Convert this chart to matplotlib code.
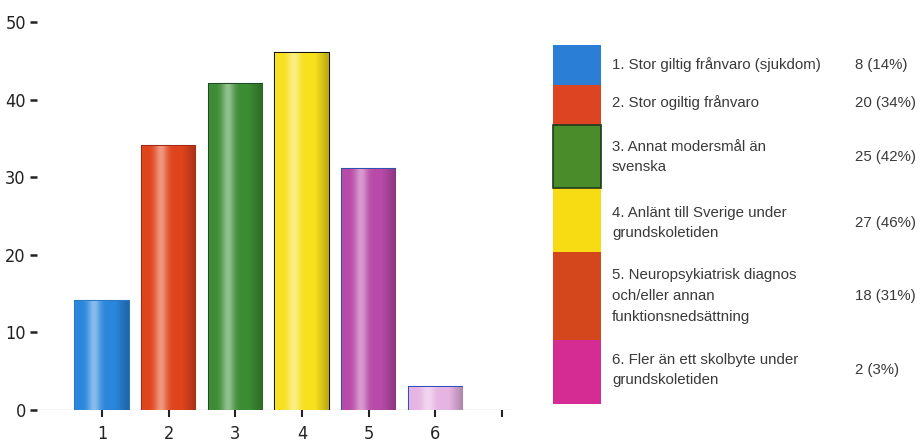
import numpy as np
import matplotlib
matplotlib.use("Agg")
import matplotlib.pyplot as plt

# Data
positions = [1, 2, 3, 4, 5, 6]
percent = [14, 34, 42, 46, 31, 3]
counts = [8, 20, 25, 27, 18, 2]
bar_colors = ["#2a86dc", "#e0441c", "#3c8c34", "#f7e01c", "#b84aa8", "#e6b4e2"]
bar_edges = ["#2a78c8", "#a02818", "#1e4a2a", "#111111", "#3050b0", "#3050c0"]
legend_colors = ["#2a7ed6", "#dc4422", "#4a8c2a", "#f7dc14", "#d4461c", "#d42c92"]
legend_labels = [
    "1. Stor giltig frånvaro (sjukdom)",
    "2. Stor ogiltig frånvaro",
    "3. Annat modersmål än\nsvenska",
    "4. Anlänt till Sverige under\ngrundskoletiden",
    "5. Neuropsykiatrisk diagnos\noch/eller annan\nfunktionsnedsättning",
    "6. Fler än ett skolbyte under\ngrundskoletiden",
]
yticks = [0, 10, 20, 30, 40, 50]

fig = plt.figure(figsize=(9.23, 4.45), dpi=100)
ax = fig.add_axes([37 / 923, 35 / 445, 473 / 923, 388 / 445])

bars = ax.bar(positions, percent, width=0.8, color=bar_colors,
              edgecolor=bar_edges, linewidth=1.5, zorder=2)

# light highlight stripe on each bar, like the shaded original
for b, c in zip(bars, bar_colors):
    x0, y0 = b.get_x(), b.get_y()
    w, h = b.get_width(), b.get_height()
    base = np.array(matplotlib.colors.to_rgb(c))
    t = np.linspace(0, 1, 60)
    light = np.exp(-((t - 0.35) / 0.12) ** 2) * 0.45
    dark = np.clip((t - 0.75) / 0.25, 0, 1) * 0.25
    row = base * (1 - light[:, None]) + light[:, None] - base * dark[:, None]
    img = np.clip(row[None, :, :], 0, 1)
    im = ax.imshow(img, extent=[x0, x0 + w, y0, y0 + h], aspect="auto",
                   zorder=2.5, interpolation="bilinear")
    im.set_clip_path(b)

ax.axhline(0, color="#c8d0e0", linewidth=1, zorder=1)

ax.set_xlim(0.024, 7.12)
ax.set_ylim(0, 50)
ax.set_xticks(positions + [7])
ax.set_xticklabels([str(p) for p in positions] + [""])
ax.set_yticks(yticks)
for s in ax.spines.values():
    s.set_visible(False)
ax.tick_params(axis="y", length=5, width=1.8, pad=3, labelsize=13,
               color="#222222", labelcolor="#222222")
ax.tick_params(axis="x", length=5, width=1.5, pad=6, labelsize=13,
               color="#222222", labelcolor="#222222")
for lab in ax.get_xticklabels() + ax.get_yticklabels():
    lab.set_fontstretch("condensed")
    lab.set_family("DejaVu Sans")

# legend column on the right
tops = [45, 85, 125, 188, 252, 340]
bottoms = [85, 125, 188, 252, 340, 404]
text_y = [65, 103, 157, 223, 296, 370]
H = 445.0
for i in range(len(legend_labels)):
    fig.patches.append(plt.Rectangle(
        (553 / 923, 1 - bottoms[i] / H), 48 / 923, (bottoms[i] - tops[i]) / H,
        transform=fig.transFigure, facecolor=legend_colors[i],
        edgecolor="none"))
    fig.text(612 / 923, 1 - text_y[i] / H, legend_labels[i], fontsize=10.8,
             family="Liberation Sans", color="#3a3a3a", va="center",
             linespacing=1.6)
    fig.text(855 / 923, 1 - text_y[i] / H, f"{counts[i]} ({percent[i]}%)",
             fontsize=10.8, family="Liberation Sans", color="#3a3a3a",
             va="center")
# dark outline around the green legend block
fig.patches.append(plt.Rectangle(
    (553 / 923, 1 - 188 / H), 48 / 923, 63 / H, transform=fig.transFigure,
    facecolor="none", edgecolor="#1e3a1e", linewidth=1.2))

fig.savefig("out.png", dpi=100)
